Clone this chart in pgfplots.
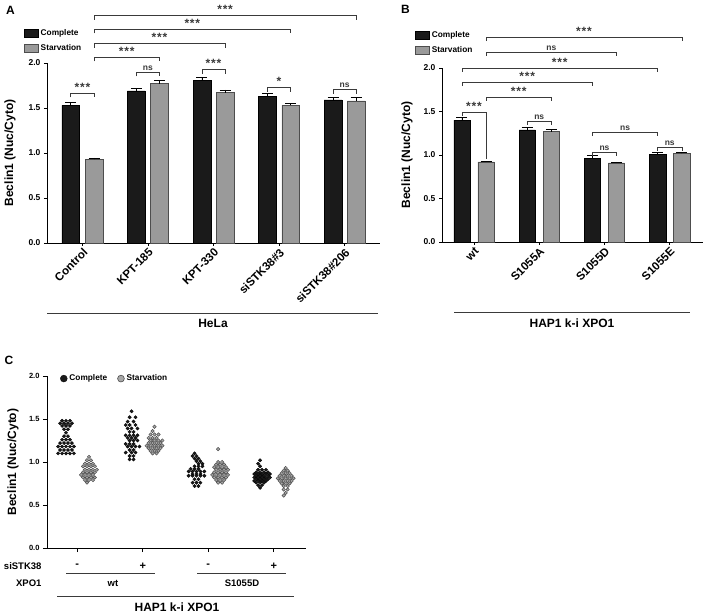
\documentclass[border=0pt]{standalone}
\usepackage{fontspec}
\setmainfont{Liberation Sans}
\usepackage{pgfplots}
\pgfplotsset{compat=1.18}
\definecolor{cblk}{HTML}{1A1A1A}
\definecolor{cgry}{HTML}{9A9A9A}
\definecolor{cgedge}{HTML}{4D4D4D}
\definecolor{cline}{HTML}{3A3A3A}
\definecolor{cdot}{HTML}{A8A8A8}
\newcommand{\fs}[1]{\fontsize{#1}{#1}\selectfont\bfseries}
\newcommand{\sss}{*\kern0.8pt*\kern0.8pt*}
\tikzset{brk/.style={line width=0.6pt, cline}, grp/.style={line width=0.8pt, cline},
  sig/.style={midway, above, inner sep=1.2pt, font={\fs{8.5}}, text=cline}}
\newcommand{\brk}[5]{\draw[brk] ([yshift=-#5]axis cs:#1,#3) -- (axis cs:#1,#3) -- node[sig] {#4} (axis cs:#2,#3) -- ([yshift=-#5]axis cs:#2,#3);}
\newcommand{\st}[1]{{\fontsize{12}{12}\selectfont #1}}
\pgfplotsset{
 gp/.style={
  scale only axis,
  anchor=south west,
  axis x line*=bottom, axis y line*=left,
  axis line style={line width=0.9pt, black},
  every tick/.style={line width=0.9pt, black},
  tick align=outside,
  major tick length=3pt,
  ymin=0, ymax=2,
  ytick={0,0.5,1,1.5,2},
  /pgf/number format/assume math mode=true,
  yticklabel style={font={\fs{8.5}}, /pgf/number format/fixed, /pgf/number format/fixed zerofill, /pgf/number format/precision=1},
  clip=false,
  ylabel={Beclin1 (Nuc/Cyto)},
  ylabel style={font={\fs{12}}, anchor=center},
  legend cell align=left,
 },
 barleg/.style={legend image code/.code={\draw[##1] (0pt,-4pt) rectangle (14pt,4pt);}},
 dotlegA/.style={legend image code/.code={\draw[fill=cblk, draw=black, line width=0.3pt] (4pt,0pt) circle[radius=3.5pt];}},
 dotlegB/.style={legend image code/.code={\draw[fill=cdot, draw=cgedge, line width=0.6pt] (4pt,0pt) circle[radius=3.4pt];}},
 errs/.style={error bars/.cd, y dir=plus, y explicit, error bar style={line width=0.8pt, black}, error mark options={rotate=90, line width=0.8pt, mark size=5.5pt, black}},
}
\begin{document}
\begin{tikzpicture}
% ---------------- Panel A ----------------
\begin{axis}[gp, at={(47pt,372pt)}, width=333pt, height=180pt,
  xmin=-0.54, xmax=4.54, xtick={0,1,2,3,4},
  xticklabels={Control,KPT-185,KPT-330,siSTK38\#3,siSTK38\#206},
  xticklabel style={rotate=45, anchor=north east, font={\fs{11.5}}, inner sep=1pt},
  ylabel style={at={(axis description cs:-0.111,0.5)}},
  legend style={at={(axis description cs:-0.069,1.2)}, anchor=north west, draw=none, fill=none, inner sep=0pt, font={\fs{8.3}}, row sep=4pt}]
\addplot[ybar, bar width=0.27, bar shift=0pt, fill=cblk, draw=black, line width=0.5pt, barleg, errs]
  coordinates {(-0.177,1.53) +- (0,0.03) (0.823,1.69) +- (0,0.025) (1.823,1.81) +- (0,0.03) (2.823,1.63) +- (0,0.03) (3.823,1.59) +- (0,0.025)};
\addlegendentry{Complete}
\addplot[ybar, bar width=0.27, bar shift=0pt, fill=cgry, draw=cgedge, line width=0.5pt, barleg, errs]
  coordinates {(0.177,0.93) +- (0,0.015) (1.177,1.77) +- (0,0.04) (2.177,1.67) +- (0,0.03) (3.177,1.53) +- (0,0.025) (4.177,1.58) +- (0,0.04)};
\addlegendentry{Starvation}
\brk{0.177}{4.177}{2.533}{\st{\sss}}{4.5pt}
\brk{0.177}{3.177}{2.378}{\st{\sss}}{4.5pt}
\brk{0.177}{2.177}{2.222}{\st{\sss}}{4.5pt}
\brk{0.177}{1.177}{2.067}{\st{\sss}}{4.5pt}
\brk{0.823}{1.177}{1.90}{ns}{4.5pt}
\brk{1.823}{2.177}{1.933}{\st{\sss}}{4.5pt}
\brk{2.823}{3.177}{1.733}{\st{*}}{4.5pt}
\brk{3.823}{4.177}{1.711}{ns}{4.5pt}
\brk{-0.177}{0.177}{1.667}{\st{\sss}}{4.5pt}
\end{axis}
% ---------------- Panel B ----------------
\begin{axis}[gp, at={(442pt,373pt)}, width=261pt, height=174pt,
  xmin=-0.49, xmax=3.51, xtick={0,1,2,3},
  xticklabels={wt,S1055A,S1055D,S1055E},
  xticklabel style={rotate=45, anchor=north east, font={\fs{11.5}}, inner sep=1pt},
  ylabel style={at={(axis description cs:-0.134,0.5)}},
  legend style={at={(axis description cs:-0.103,1.224)}, anchor=north west, draw=none, fill=none, inner sep=0pt, font={\fs{8.3}}, row sep=4pt}]
\addplot[ybar, bar width=0.25, bar shift=0pt, fill=cblk, draw=black, line width=0.5pt, barleg, errs]
  coordinates {(-0.185,1.40) +- (0,0.03) (0.815,1.29) +- (0,0.03) (1.815,0.96) +- (0,0.03) (2.815,1.01) +- (0,0.02)};
\addlegendentry{Complete}
\addplot[ybar, bar width=0.25, bar shift=0pt, fill=cgry, draw=cgedge, line width=0.5pt, barleg, errs]
  coordinates {(0.185,0.92) +- (0,0.01) (1.185,1.27) +- (0,0.02) (2.185,0.91) +- (0,0.01) (3.185,1.02) +- (0,0.01)};
\addlegendentry{Starvation}
\brk{0.185}{3.185}{2.356}{\st{\sss}}{4pt}
\brk{0.185}{2.185}{2.184}{ns}{4pt}
\brk{-0.185}{2.815}{2.0}{\st{\sss}}{4pt}
\brk{-0.185}{1.815}{1.839}{\st{\sss}}{4pt}
\brk{0.185}{1.185}{1.667}{\st{\sss}}{4pt}
\draw[brk] ([yshift=-4pt]axis cs:-0.185,1.494) -- (axis cs:-0.185,1.494) -- node[sig] {\st{\sss}} (axis cs:0.185,1.494) -- (axis cs:0.185,0.95);
\brk{0.815}{1.185}{1.391}{ns}{4pt}
\brk{1.815}{2.815}{1.264}{ns}{4pt}
\brk{1.815}{2.185}{1.034}{ns}{4pt}
\brk{2.815}{3.185}{1.092}{ns}{4pt}
\end{axis}
% ---------------- Panel C ----------------
\begin{axis}[gp, at={(47pt,67pt)}, width=259pt, height=172pt,
  xmin=-0.46, xmax=3.49, xtick={0,1,2,3},
  xticklabels={-,+,-,+}, major tick length=4pt,
  xticklabel style={font={\fs{11}}, yshift=-8pt},
  yticklabel style={font={\fs{7.5}}},
  ylabel style={at={(axis description cs:-0.131,0.5)}},
  legend columns=2,
  legend style={at={(axis description cs:0.05,0.985)}, anchor=west, draw=none, fill=none, inner sep=0pt, font={\fs{8.3}}, /tikz/every even column/.append style={column sep=8pt}}]
\addplot[only marks, mark=*, mark size=1.7pt, mark options={fill=cblk, draw=black, line width=0.3pt}, dotlegA]
  coordinates {
  (-0.23,1.48) (-0.17,1.48) (-0.11,1.48)
  (-0.26,1.45) (-0.20,1.45) (-0.14,1.45) (-0.08,1.45)
  (-0.23,1.42) (-0.17,1.42) (-0.11,1.42)
  (-0.20,1.38) (-0.14,1.38)
  (-0.17,1.34)
  (-0.20,1.30) (-0.14,1.30)
  (-0.23,1.26) (-0.17,1.26) (-0.11,1.26)
  (-0.26,1.22) (-0.20,1.22) (-0.14,1.22) (-0.08,1.22)
  (-0.29,1.18) (-0.23,1.18) (-0.17,1.18) (-0.11,1.18) (-0.05,1.18)
  (-0.26,1.14) (-0.20,1.14) (-0.14,1.14) (-0.08,1.14)
  (-0.29,1.10) (-0.23,1.10) (-0.17,1.10) (-0.11,1.10) (-0.05,1.10)
  (0.83,1.59)
  (0.80,1.52) (0.89,1.52)
  (0.77,1.47) (0.86,1.47)
  (0.74,1.43) (0.80,1.43) (0.89,1.43)
  (0.77,1.39) (0.83,1.39) (0.92,1.39)
  (0.80,1.35) (0.86,1.35)
  (0.74,1.31) (0.80,1.31) (0.86,1.31) (0.92,1.31)
  (0.77,1.28) (0.83,1.28) (0.89,1.28)
  (0.80,1.25) (0.86,1.25) (0.92,1.25)
  (0.74,1.21) (0.80,1.21) (0.86,1.21)
  (0.77,1.18) (0.83,1.18) (0.89,1.18) (0.95,1.18)
  (0.80,1.14) (0.86,1.14)
  (0.74,1.11) (0.83,1.11) (0.89,1.11)
  (0.80,1.07) (0.86,1.07)
  (0.80,1.03) (0.86,1.03)
  (1.79,1.10)
  (1.76,1.07) (1.82,1.07)
  (1.79,1.04) (1.85,1.04)
  (1.82,1.01) (1.88,1.01)
  (1.85,0.98) (1.91,0.98)
  (1.79,0.95) (1.85,0.95) (1.91,0.95)
  (1.73,0.92) (1.79,0.92) (1.85,0.92)
  (1.70,0.89) (1.76,0.89) (1.82,0.89) (1.88,0.89) (1.94,0.89)
  (1.76,0.86) (1.82,0.86) (1.88,0.86)
  (1.70,0.84) (1.76,0.84) (1.82,0.84) (1.88,0.84) (1.94,0.84)
  (1.79,0.80) (1.85,0.80)
  (1.76,0.76) (1.82,0.76) (1.88,0.76)
  (1.79,0.72) (1.85,0.72)
  (2.79,1.02) (2.76,0.98) (2.79,0.95)
  (2.76,0.91) (2.82,0.91) (2.88,0.91)
  (2.73,0.88) (2.79,0.88) (2.85,0.88) (2.91,0.88)
  (2.70,0.86) (2.76,0.86) (2.82,0.86) (2.88,0.86) (2.94,0.86)
  (2.73,0.84) (2.79,0.84) (2.85,0.84) (2.91,0.84)
  (2.70,0.82) (2.76,0.82) (2.82,0.82) (2.88,0.82) (2.94,0.82)
  (2.73,0.80) (2.79,0.80) (2.85,0.80) (2.91,0.80)
  (2.70,0.78) (2.76,0.78) (2.82,0.78) (2.88,0.78)
  (2.73,0.76) (2.79,0.76) (2.85,0.76)
  (2.76,0.73) (2.82,0.73)
  (2.79,0.70)
  };
\addlegendentry{Complete}
\addplot[only marks, mark=*, mark size=1.7pt, mark options={fill=cdot, draw=cgedge, line width=0.5pt}, dotlegB]
  coordinates {
  (0.18,1.06) (0.15,1.02) (0.21,1.02) (0.12,0.98) (0.18,0.98) (0.24,0.98) (0.09,0.95) (0.15,0.95) (0.21,0.95) (0.27,0.95) (0.12,0.91) (0.18,0.91) (0.24,0.91) (0.30,0.91) (0.09,0.88) (0.15,0.88) (0.21,0.88) (0.27,0.88) (0.06,0.85) (0.12,0.85) (0.18,0.85) (0.24,0.85) (0.09,0.82) (0.15,0.82) (0.21,0.82) (0.27,0.82) (0.12,0.79) (0.18,0.79) (0.24,0.79) (0.15,0.76)
  (1.18,1.41) (1.15,1.36) (1.12,1.32) (1.18,1.32) (1.24,1.32) (1.09,1.28) (1.15,1.28) (1.21,1.28) (1.12,1.25) (1.18,1.25) (1.24,1.25) (1.30,1.25) (1.09,1.22) (1.15,1.22) (1.21,1.22) (1.27,1.22) (1.06,1.19) (1.12,1.19) (1.18,1.19) (1.24,1.19) (1.30,1.19) (1.09,1.16) (1.15,1.16) (1.21,1.16) (1.27,1.16) (1.12,1.13) (1.18,1.13) (1.24,1.13) (1.15,1.10) (1.21,1.10)
  (2.15,1.15) (2.15,1.00) (2.21,1.00) (2.12,0.97) (2.18,0.97) (2.24,0.97) (2.09,0.94) (2.15,0.94) (2.21,0.94) (2.27,0.94) (2.12,0.91) (2.18,0.91) (2.24,0.91) (2.30,0.91) (2.09,0.88) (2.15,0.88) (2.21,0.88) (2.27,0.88) (2.06,0.85) (2.12,0.85) (2.18,0.85) (2.24,0.85) (2.30,0.85) (2.09,0.82) (2.15,0.82) (2.21,0.82) (2.27,0.82) (2.12,0.79) (2.18,0.79) (2.24,0.79) (2.15,0.76) (2.21,0.76)
  (3.18,0.93) (3.15,0.90) (3.21,0.90) (3.12,0.87) (3.18,0.87) (3.24,0.87) (3.09,0.84) (3.15,0.84) (3.21,0.84) (3.27,0.84) (3.06,0.81) (3.12,0.81) (3.18,0.81) (3.24,0.81) (3.30,0.81) (3.09,0.78) (3.15,0.78) (3.21,0.78) (3.27,0.78) (3.12,0.75) (3.18,0.75) (3.24,0.75) (3.15,0.72) (3.21,0.72) (3.15,0.68) (3.21,0.68) (3.18,0.64) (3.15,0.61)
  };
\addlegendentry{Starvation}
\end{axis}
% ---------------- annotations ----------------
\node[font={\fs{12}}] at (10.5pt,604.5pt) {A};
\node[font={\fs{12}}] at (405.5pt,606pt) {B};
\node[font={\fs{12}}] at (9pt,255pt) {C};
\draw[grp] (47pt,302pt) -- (378pt,302pt);
\node[font={\fs{12}}] at (213pt,292pt) {HeLa};
\draw[grp] (454pt,303pt) -- (690pt,303pt);
\node[font={\fs{12}}] at (572pt,292pt) {HAP1 k-i XPO1};
\node[anchor=east, font={\fs{9.5}}] at (45pt,49pt) {siSTK38};
\draw[grp] (66pt,42pt) -- (155pt,42pt);
\draw[grp] (197pt,42pt) -- (286pt,42pt);
\node[anchor=east, font={\fs{9.5}}] at (45pt,32pt) {XPO1};
\node[font={\fs{9.5}}] at (113pt,32pt) {wt};
\node[font={\fs{9.5}}] at (242pt,32pt) {S1055D};
\draw[grp] (57pt,19pt) -- (294pt,19pt);
\node[font={\fs{12}}] at (177pt,8pt) {HAP1 k-i XPO1};
\pgfresetboundingbox
\useasboundingbox (0pt,0pt) rectangle (708pt,615pt);
\end{tikzpicture}
\end{document}
